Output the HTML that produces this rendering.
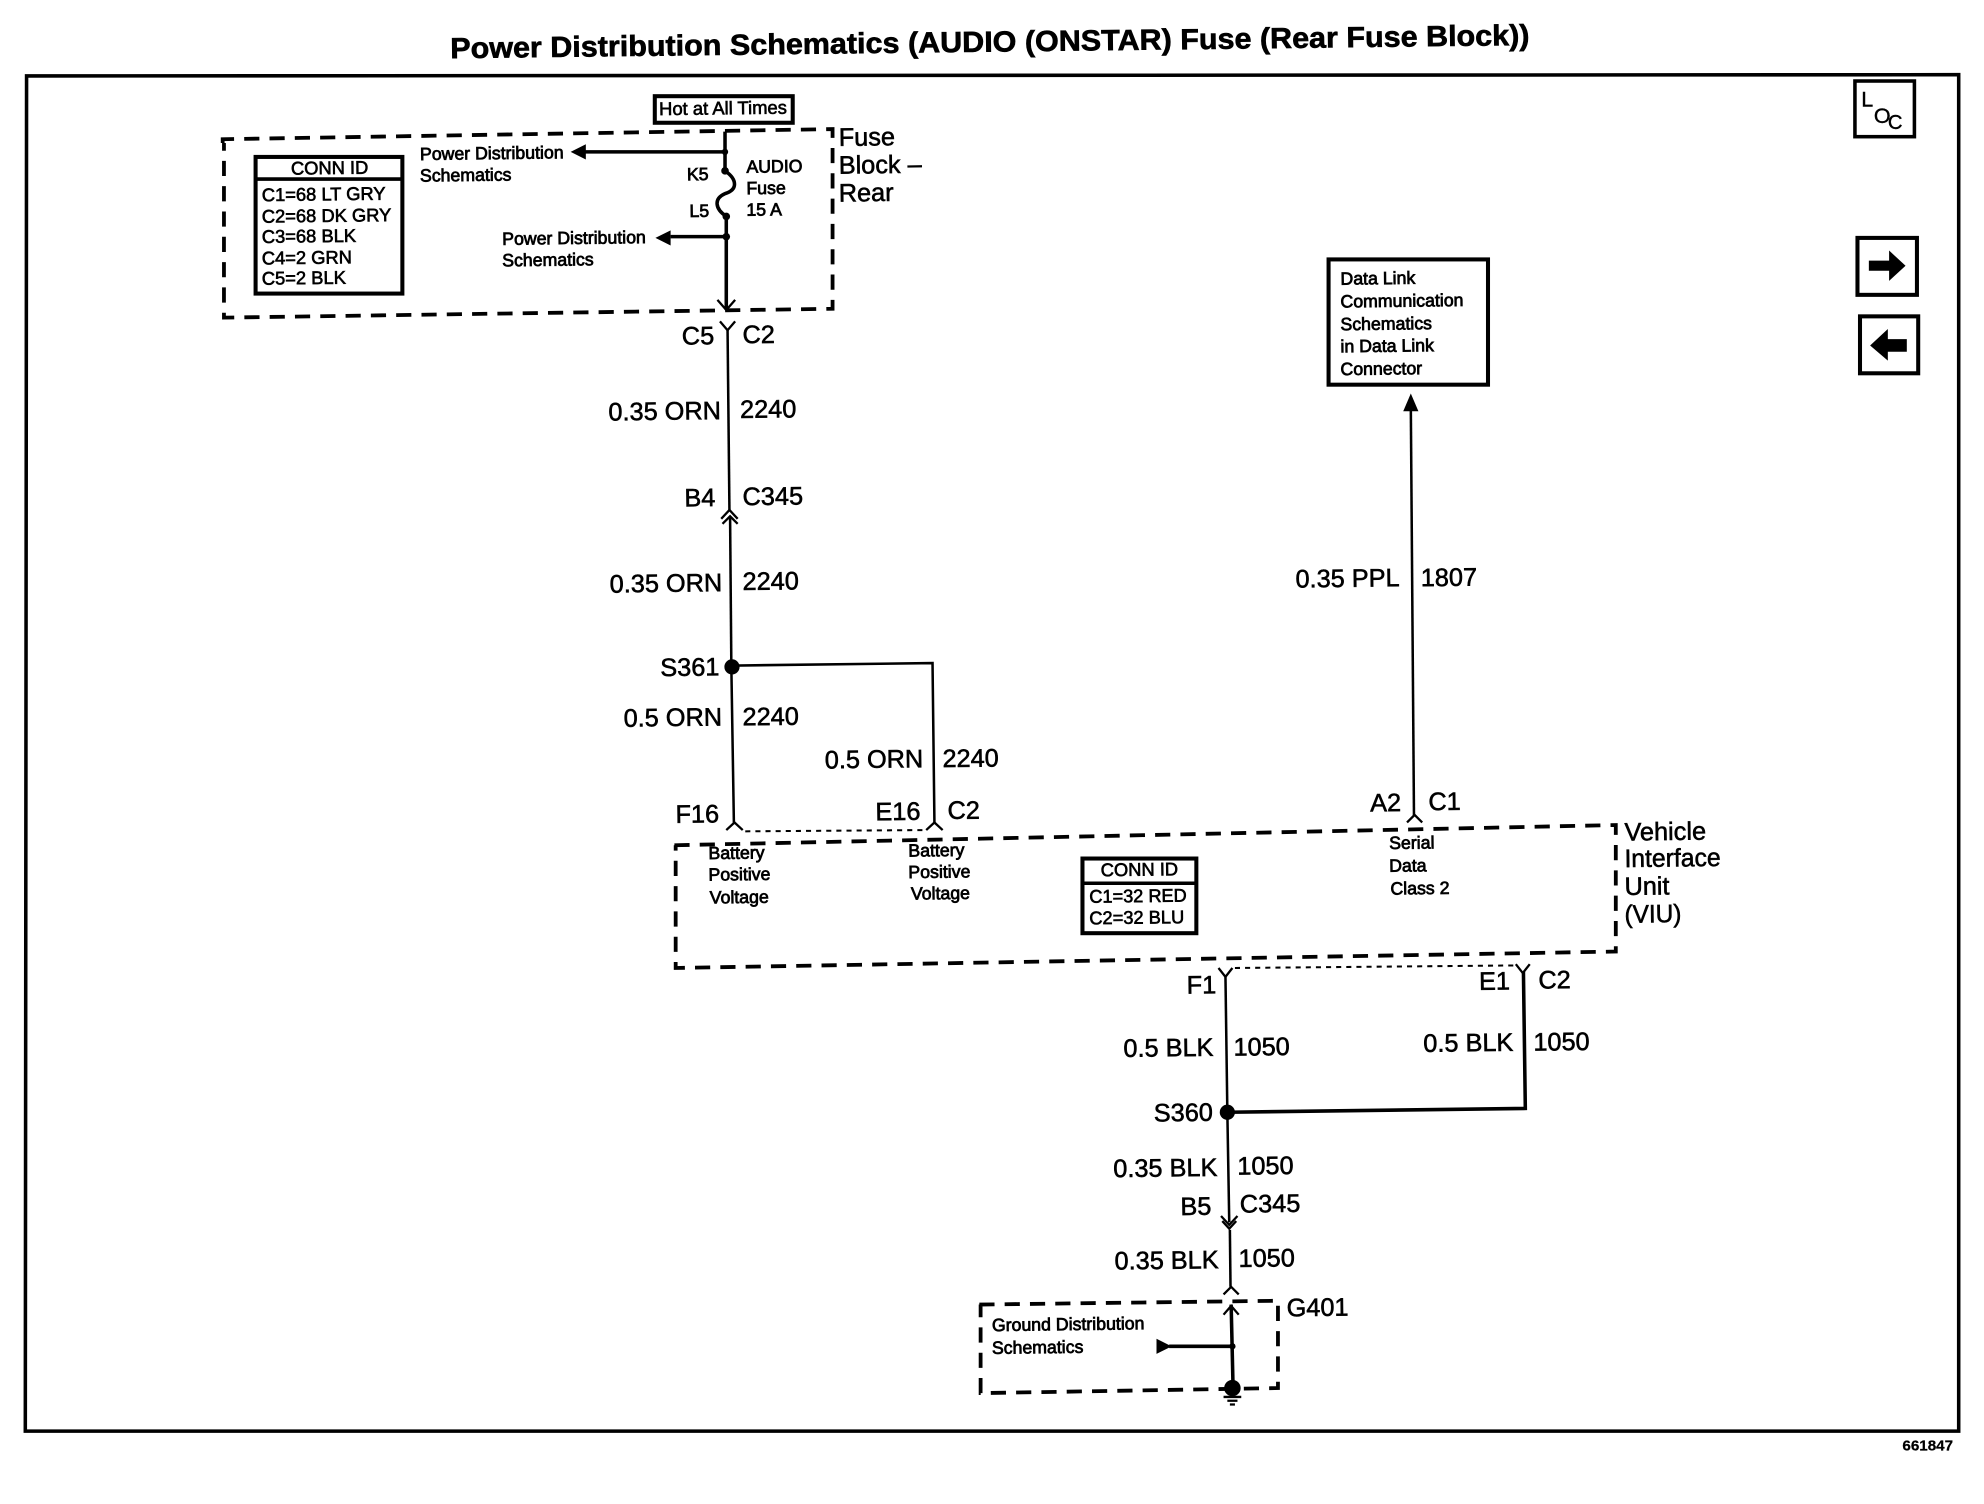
<!DOCTYPE html>
<html><head><meta charset="utf-8">
<style>
html,body{margin:0;padding:0;background:#fff}
svg{display:block}
text{font-family:"Liberation Sans",sans-serif;fill:#000;stroke:#000;stroke-width:.3;transform-box:fill-box;transform-origin:left bottom;transform:rotate(-.7deg)}
.b{font-size:20px;stroke-width:.45;transform:translateY(-.7px) rotate(-.7deg)}
.s{font-size:14px;stroke-width:.6}
.m{font-size:14.5px;stroke-width:.5}
.w{fill:none;stroke:#000;stroke-width:2}
.t{fill:none;stroke:#000;stroke-width:2.8}
.d{fill:none;stroke:#000;stroke-width:3;stroke-dasharray:12 8}
.o{fill:none;stroke:#000;stroke-width:1.6;stroke-dasharray:4 4}
.c{fill:none;stroke:#000;stroke-width:1.8}
</style></head><body>
<svg width="1984" height="1504" viewBox="0 0 1568 1188.6" xmlns="http://www.w3.org/2000/svg">
<rect width="1568" height="1189" fill="#fff"/>
<text x="356" y="46" font-size="23" font-weight="700" textLength="853" lengthAdjust="spacingAndGlyphs" style="stroke-width:.5">Power Distribution Schematics (AUDIO (ONSTAR) Fuse (Rear Fuse Block))</text>
<path class="t" d="M21 60L1548 59V1131L20 1131Z"/>

<!-- icons -->
<rect class="t" x="1466" y="64" width="47" height="44"/>
<text x="1471" y="84" font-size="17" style="transform:none">L</text>
<text x="1481" y="97" font-size="17" style="transform:none">O</text>
<text x="1492" y="102" font-size="16" style="transform:none">C</text>
<rect class="t" x="1468" y="188" width="47" height="45" style="stroke-width:3.200"/>
<path d="M1477 206H1493V198L1506 210L1493 222V214H1477Z"/>
<rect class="t" x="1470" y="250" width="46" height="45" style="stroke-width:3.200"/>
<path d="M1507 268H1492V260L1478 273L1492 285V278H1507Z"/>

<!-- fuse block -->
<rect class="t" x="517.500" y="76" width="109" height="21" style="stroke-width:3.200"/>
<text x="521" y="91" class="m" textLength="101" lengthAdjust="spacingAndGlyphs">Hot at All Times</text>
<path class="d" d="M176 113V110L658 102V244L177 251V113"/>
<text x="663" y="116" class="b">Fuse</text>
<text x="663" y="138" class="b">Block –</text>
<text x="663" y="160" class="b">Rear</text>
<rect class="t" x="202" y="124" width="116" height="108" style="stroke-width:3.200"/>
<path class="t" d="M202 141.500H318"/>
<text x="230" y="138" class="m">CONN ID</text>
<text x="207" y="159" class="m">C1=68 LT GRY</text>
<text x="207" y="176" class="m">C2=68 DK GRY</text>
<text x="207" y="192" class="m">C3=68 BLK</text>
<text x="207" y="209" class="m">C4=2 GRN</text>
<text x="207" y="225" class="m">C5=2 BLK</text>
<text x="332" y="126.500" class="s">Power Distribution</text>
<text x="332" y="143.500" class="s">Schematics</text>
<text x="397" y="193.500" class="s">Power Distribution</text>
<text x="397" y="210.500" class="s">Schematics</text>
<text x="543" y="142.500" class="s">K5</text>
<text x="545" y="171.500" class="s">L5</text>
<text x="590" y="136.500" class="s">AUDIO</text>
<text x="590" y="153.500" class="s">Fuse</text>
<text x="590" y="170.500" class="s">15 A</text>
<path class="t" d="M573 104V135C583 142 583 150 573 153C564 157 565 165 574 171V245"/>
<path class="t" d="M573 120H462M574 187H530"/>
<path d="M451 120L463 114V126ZM518 188L530 182V194Z"/>
<circle cx="573" cy="120" r="2.500"/><circle cx="573" cy="135" r="3"/><circle cx="574" cy="171" r="3"/><circle cx="574" cy="187" r="3"/>
<path class="c" d="M567 237L574 245L581 237"/>
<path class="c" d="M569 254L575 261L581 254"/>

<!-- left wires -->
<path class="w" d="M575 260L576.500 404"/>
<path class="c" d="M570 410L576.500 403L583 410M571 414L577 408L583 414"/>
<path class="w" d="M577 408L578 527"/>
<circle cx="578.500" cy="527" r="6"/>
<path class="w" d="M578 527L580 650"/>
<path class="w" d="M578 526L737 524L738.500 650"/>
<path class="c" d="M574 656L580.500 650L587 656M732 656L738.500 650L745 656"/>
<path class="o" d="M589 657L730 656"/>

<text x="539" y="273" class="b">C5</text><text x="587" y="272" class="b">C2</text>
<text x="481" y="333" class="b">0.35 ORN</text><text x="585" y="331" class="b">2240</text>
<text x="541" y="401" class="b">B4</text><text x="587" y="400" class="b">C345</text>
<text x="482" y="469" class="b">0.35 ORN</text><text x="587" y="467" class="b">2240</text>
<text x="522" y="535" class="b">S361</text>
<text x="493" y="575" class="b">0.5 ORN</text><text x="587" y="574" class="b">2240</text>
<text x="652" y="608" class="b">0.5 ORN</text><text x="745" y="607" class="b">2240</text>
<text x="534" y="651" class="b">F16</text><text x="692" y="649" class="b">E16</text><text x="749" y="648" class="b">C2</text>

<!-- VIU -->
<path class="d" d="M533 668L1277 652V752L534 765V668"/>
<text x="1284" y="665" class="b">Vehicle</text>
<text x="1284" y="686" class="b" textLength="76" lengthAdjust="spacingAndGlyphs">Interface</text>
<text x="1284" y="708" class="b">Unit</text>
<text x="1284" y="730" class="b" textLength="45" lengthAdjust="spacingAndGlyphs">(VIU)</text>
<text x="560" y="679" class="s">Battery</text>
<text x="560" y="696" class="s">Positive</text>
<text x="561" y="714" class="s">Voltage</text>
<text x="718" y="677" class="s">Battery</text>
<text x="718" y="694" class="s">Positive</text>
<text x="720" y="711" class="s">Voltage</text>
<text x="1098" y="671" class="s">Serial</text>
<text x="1098" y="689" class="s">Data</text>
<text x="1099" y="707" class="s">Class 2</text>
<rect class="t" x="855.500" y="678.500" width="90" height="59" style="stroke-width:3.200"/>
<path class="t" d="M855.500 698H945.500"/>
<text x="870" y="692.500" class="m">CONN ID</text>
<text x="861" y="713.500" class="m" textLength="77" lengthAdjust="spacingAndGlyphs">C1=32 RED</text>
<text x="861" y="730.500" class="m" textLength="75" lengthAdjust="spacingAndGlyphs">C2=32 BLU</text>

<!-- data link -->
<rect class="t" x="1050" y="205" width="126" height="99" style="stroke-width:3.200"/>
<text x="1059.500" y="225" class="s">Data Link</text>
<text x="1059.500" y="243" class="s">Communication</text>
<text x="1059.500" y="261" class="s">Schematics</text>
<text x="1059.500" y="278.500" class="s">in Data Link</text>
<text x="1059.500" y="296.500" class="s">Connector</text>
<path d="M1115 311L1109 325H1121Z"/>
<path class="w" d="M1115 322L1117.500 645"/>
<path class="c" d="M1112 650L1118 644L1124 650"/>
<text x="1024" y="465" class="b">0.35 PPL</text><text x="1123" y="464" class="b">1807</text>
<text x="1083" y="642" class="b">A2</text><text x="1129" y="641" class="b">C1</text>

<!-- lower wires -->
<path class="c" d="M963 765L968.500 772L974 765M1198 762L1203.500 769L1209 762"/>
<path class="o" d="M976 765L1196 763"/>
<path class="w" d="M968.500 771L970 879"/>
<path class="t" d="M970 879L1205.500 876L1204 768"/>
<circle cx="970" cy="879" r="6"/>
<path class="w" d="M970 879L971.500 966"/>
<path class="c" d="M965 961L971.500 968L978 961M966 965L971.500 971L977 965"/>
<path class="w" d="M972 972L972.500 1017"/>
<path class="c" d="M967 1023L973 1017L979 1023"/>
<text x="938" y="786" class="b">F1</text><text x="1169" y="783" class="b">E1</text><text x="1216" y="782" class="b">C2</text>
<text x="888" y="836" class="b">0.5 BLK</text><text x="975" y="835" class="b">1050</text>
<text x="1125" y="832" class="b">0.5 BLK</text><text x="1212" y="831" class="b">1050</text>
<text x="912" y="887" class="b">S360</text>
<text x="880" y="931" class="b">0.35 BLK</text><text x="978" y="929" class="b">1050</text>
<text x="933" y="961" class="b">B5</text><text x="980" y="959" class="b">C345</text>
<text x="881" y="1004" class="b">0.35 BLK</text><text x="979" y="1002" class="b">1050</text>

<!-- ground -->
<path class="d" d="M774 1031L1010 1028V1097L775 1101V1031"/>
<text x="1017" y="1041" class="b">G401</text>
<text x="784" y="1052" class="s">Ground Distribution</text>
<text x="784" y="1070" class="s">Schematics</text>
<path class="t" d="M973 1031L974.500 1096"/>
<path class="c" d="M967 1039L973 1032L979 1039"/>
<path class="t" d="M924 1064H974"/>
<path d="M914 1058L926 1064L914 1070Z"/>
<circle cx="974" cy="1064" r="2.500"/>
<circle cx="974" cy="1097" r="6.500"/>
<path class="c" d="M967 1104H981M970 1107H978M972 1110H976"/>

<text x="1503.500" y="1146.500" font-size="12" font-weight="700" style="stroke-width:.2;transform:none">661847</text>
</svg>
</body></html>
